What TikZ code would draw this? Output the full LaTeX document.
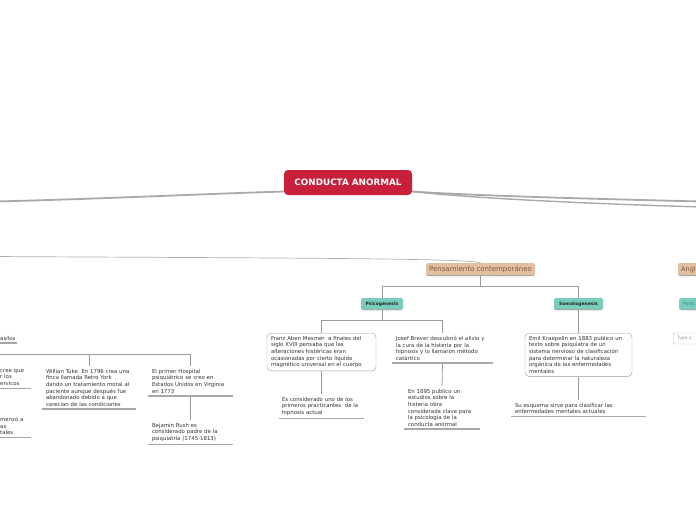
\documentclass[tikz,border=0pt]{standalone}
\usepackage{fontspec}
\usepackage{tikz}
\setmainfont{DejaVu Sans}
\definecolor{maproot}{HTML}{C8203A}
\definecolor{maptan}{HTML}{E3BFA0}
\definecolor{maptantext}{HTML}{7B5A45}
\definecolor{mapteal}{HTML}{78CDBD}
\definecolor{mapline}{HTML}{9A9A9A}
\definecolor{mapunder}{HTML}{A8A8A8}
\newcommand{\leaffont}{\fontsize{5.4}{6.6}\selectfont}

\begin{document}
\begin{tikzpicture}[x=1pt, y=-1pt,
  trunk/.style={draw=mapline!85, line width=1.8pt},
  link/.style={draw=mapline, line width=0.8pt},
  underlined/.style={path picture={\draw[mapunder, line width=2pt]
    (path picture bounding box.south west) -- (path picture bounding box.south east);}},
  rootbox/.style={fill=maproot, text=white, rounded corners=4pt, inner sep=0pt,
    font=\fontsize{8.8}{10}\selectfont\bfseries, minimum width=128pt, minimum height=25pt},
  topicbox/.style={fill=maptan, text=maptantext, rounded corners=2pt, inner sep=0pt,
    font=\fontsize{7}{8}\selectfont, minimum height=13pt, underlined},
  subbox/.style={fill=mapteal, text=black!85, rounded corners=2pt, inner sep=0pt,
    font=\fontsize{4.5}{6}\selectfont\bfseries, minimum height=12pt, underlined},
  leaf/.style={font=\leaffont, align=left, inner xsep=4pt, inner ysep=3pt, text=black!80, underlined},
  card/.style={draw=mapline, fill=white, rounded corners=4pt, font=\leaffont, align=left,
    inner xsep=4pt, inner ysep=3pt, text=black!80}]

  \useasboundingbox (0,0) rectangle (696,520);
  \clip (0,0) rectangle (696,520);

  % ── Central topic and the main branches ──────────────────────
  \node[rootbox] (root) at (348,182.5) {CONDUCTA ANORMAL};
  \coordinate (offL) at (-5,201.5);
  \coordinate (offR1) at (701,201.5);
  \coordinate (offR2) at (701,207);
  \draw[trunk] (root.188) .. controls (200,194) and (100,199) .. (offL);
  \draw[trunk] (root.352) .. controls (480,196) and (600,199) .. (offR1);
  \draw[trunk, line width=1.4pt] (root.352) .. controls (480,199) and (600,204) .. (offR2);

  % ── Main topics ──────────────────────────────────────────────
  \node[topicbox, minimum width=109pt] (pens) at (480.5,269.5) {Pensamiento contemporáneo};
  \node[topicbox, anchor=west, text width=32pt, align=left, inner xsep=3pt,
    font=\fontsize{6.5}{8}\selectfont] (angl) at (678,269.5) {Angl};
  \coordinate (offP) at (-5,256.5);
  \draw[link, draw=mapline!80, line width=0.7pt] (offP) .. controls (250,258) and (470,258) .. (pens.north);

  % ── Psicogénesis / Somatogenesis ─────────────────────────────
  \node[subbox, minimum width=42pt] (psico) at (382,304) {Psicogénesis};
  \node[subbox, minimum width=49pt] (soma) at (578.5,304) {Somatogenesis};
  \node[subbox, anchor=west, text width=26pt, align=left, inner xsep=4pt,
    text=teal!60!gray, font=\fontsize{4.5}{6}\selectfont] (point) at (679,304) {Point};
  \node[draw=mapline!70, fill=white, rounded corners=2pt, anchor=west, minimum height=11pt,
    inner xsep=4pt, inner ysep=0pt, text width=30pt, align=left,
    font=\fontsize{4.5}{6}\selectfont, text=black!40] (typeo) at (673,338.5) {Type o};
  \draw[link] (pens.south) -- ++(0,10) -| (psico.north);
  \draw[link] (pens.south) -- ++(0,10) -| (soma.north);

  % ── Psicogénesis leaves ──────────────────────────────────────
  \node[card, text width=101pt, anchor=north] (franz) at (321.5,333)
    {Franz Aben Mesmer \ a finales del\\siglo XVIII pensaba que las\\alteraciones histéricas eran\\ocasionadas por cierto liquido\\magnético universal en el cuerpo};
  \node[leaf, text width=93pt, anchor=north] (josef) at (442.5,333)
    {Josef Brever descubrió el alivio y\\la cura de la histeria por la\\hipnosis y lo llamaron método\\catártico};
  \draw[link] (psico.south) -- ++(0,10) -| (franz.north);
  \draw[link] (psico.south) -- ++(0,10) -| (josef.north);
  \node[leaf, text width=79pt, inner xsep=3pt, anchor=north] (practic) at (321.5,394)
    {Es considerado uno de los\\primeros practicantes \ de la\\hipnosis actual};
  \node[leaf, text width=68pt, anchor=north] (estudio) at (442,386)
    {En 1895 publico un\\estudios sobre la\\histeria obra\\considerada clave para\\la psicología de la\\conducta anormal};
  \draw[link] (franz.south) -- (practic.north);
  \draw[link] (josef.south) -- (estudio.north);

  % ── Somatogenesis leaves ─────────────────────────────────────
  \node[card, text width=99pt, anchor=north] (emil) at (578.5,333)
    {Emil Kraepelin en 1883 publico un\\texto sobre psiquiatra de un\\sistema nervioso de clasificación\\para determinar la naturaleza\\orgánica de las enfermedades\\mentales};
  \node[leaf, text width=127pt, anchor=north] (esquema) at (578.5,400)
    {Su esquema sirve para clasificar las\\enfermedades mentales actuales};
  \draw[link] (soma.south) -- (emil.north);
  \draw[link] (emil.south) -- (esquema.north);

  % ── Left branch (cut by the page edge) ───────────────────────
  \node[leaf, text width=13pt, anchor=north west] (asilos) at (-4,333) {asilos};
  \node[leaf, text width=27pt, anchor=north west] (creeque) at (-4,366) {cree que\\r los\\ervicos};
  \node[leaf, text width=27pt, anchor=north west] (menzo) at (-4,414) {menzó a\\as\\tales};
  \node[leaf, text width=86pt, anchor=north] (tuke) at (89,366)
    {Willian Tuke \ En 1796 crea una\\finca llamada Retro York\\dando un tratamiento moral al\\paciente aunque después fue\\abandonado debido a que\\carecian de las condiciones};
  \node[leaf, text width=77pt, anchor=north] (hosp) at (190.5,366)
    {El primer Hospital\\psiquiátrico se creo en\\Estados Unidos en Virginia\\en 1773};
  \node[leaf, text width=77pt, anchor=north] (rush) at (190.5,420)
    {Bejamin Rush es\\considerado padre de la\\psiquiatría (1745-1813)};
  \coordinate (barL) at (-10,354);
  \draw[link] (barL) -| (tuke.north);
  \draw[link] (barL) -| (hosp.north);
  \draw[link] (hosp.south) -- (rush.north);

\end{tikzpicture}
\end{document}
